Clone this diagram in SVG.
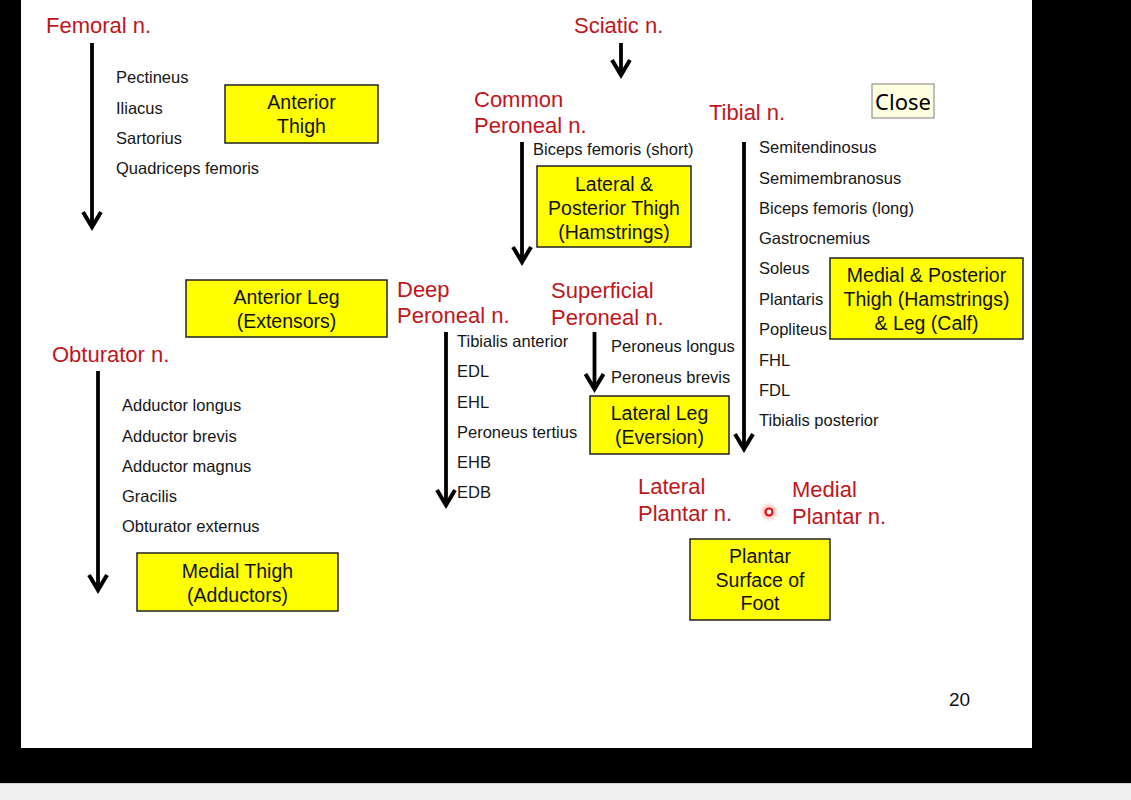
<svg xmlns="http://www.w3.org/2000/svg" width="1131" height="800" viewBox="0 0 1131 800">
<style>
.title{font-family:"Liberation Sans",Arial,sans-serif;font-size:22px;fill:#c0161b}
.mus{font-family:"Liberation Sans",Arial,sans-serif;font-size:16.5px;fill:#161616}
.boxt{font-family:"Liberation Sans",Arial,sans-serif;font-size:19.5px;fill:#111;text-anchor:middle}
.box{fill:#ffff00;stroke:#222;stroke-width:1.5}
.arr{stroke:#000;stroke-width:3.8;fill:none;marker-end:url(#chev)}
</style>
<defs>
<marker id="chev" markerUnits="userSpaceOnUse" viewBox="-20 -12 24 24" refX="0" refY="0" markerWidth="24" markerHeight="24" orient="auto" overflow="visible">
<path d="M-15,-9 L0,0 L-15,9" fill="none" stroke="#000" stroke-width="4"/>
</marker>
<radialGradient id="glow"><stop offset="0" stop-color="#ff3030" stop-opacity="0.5"/><stop offset="1" stop-color="#ff3030" stop-opacity="0"/></radialGradient>
</defs>
<rect x="0" y="0" width="1131" height="800" fill="#000"/>
<rect x="21" y="0" width="1011" height="748" fill="#fff"/>
<rect x="0" y="783" width="1131" height="17" fill="#f0f0f0"/>
<line x1="0" y1="783.5" x2="1131" y2="783.5" stroke="#d0d0d0"/>

<g id="connectors">
<line class="arr" x1="92" y1="43" x2="92" y2="227"/>
<line class="arr" x1="621" y1="43" x2="621" y2="75"/>
<line class="arr" x1="522" y1="142" x2="522" y2="262"/>
<line class="arr" x1="744" y1="142" x2="744" y2="449"/>
<line class="arr" x1="446" y1="332" x2="446" y2="505"/>
<line class="arr" x1="594.5" y1="332" x2="594.5" y2="389"/>
<line class="arr" x1="98" y1="371" x2="98" y2="590"/>
</g>

<g id="femoral">
<text class="title" x="46" y="33">Femoral n.</text>
<text class="mus" x="116" y="83">Pectineus</text>
<text class="mus" x="116" y="114">Iliacus</text>
<text class="mus" x="116" y="144">Sartorius</text>
<text class="mus" x="116" y="174">Quadriceps femoris</text>
</g>
<g id="anterior-thigh">
<rect class="box" x="225" y="85" width="153" height="58"/>
<text class="boxt" x="301.5" y="109">Anterior</text>
<text class="boxt" x="301.5" y="133">Thigh</text>
</g>

<g id="sciatic"><text class="title" x="574" y="33">Sciatic n.</text></g>

<g id="common-peroneal">
<text class="title" x="474" y="107">Common</text>
<text class="title" x="474" y="133">Peroneal n.</text>
<text class="mus" x="533" y="155">Biceps femoris (short)</text>
</g>
<g id="lateral-posterior-thigh">
<rect class="box" x="537" y="166" width="154" height="81"/>
<text class="boxt" x="614" y="191">Lateral &amp;</text>
<text class="boxt" x="614" y="215">Posterior Thigh</text>
<text class="boxt" x="614" y="239">(Hamstrings)</text>
</g>

<g id="tibial">
<text class="title" x="709" y="120">Tibial n.</text>
<text class="mus" x="759" y="153">Semitendinosus</text>
<text class="mus" x="759" y="184">Semimembranosus</text>
<text class="mus" x="759" y="214">Biceps femoris (long)</text>
<text class="mus" x="759" y="244">Gastrocnemius</text>
<text class="mus" x="759" y="274">Soleus</text>
<text class="mus" x="759" y="305">Plantaris</text>
<text class="mus" x="759" y="335">Popliteus</text>
<text class="mus" x="759" y="366">FHL</text>
<text class="mus" x="759" y="396">FDL</text>
<text class="mus" x="759" y="426">Tibialis posterior</text>
</g>
<g id="medial-posterior">
<rect class="box" x="830" y="258" width="193" height="81"/>
<text class="boxt" x="926.5" y="282">Medial &amp; Posterior</text>
<text class="boxt" x="926.5" y="306">Thigh (Hamstrings)</text>
<text class="boxt" x="926.5" y="330">&amp; Leg (Calf)</text>
</g>

<g id="close">
<rect x="872" y="84" width="62" height="34" fill="#ffffe1" stroke="#808080" stroke-width="1"/>
<text x="903" y="110" text-anchor="middle" font-family="'Noto Sans','Open Sans',sans-serif" font-size="22" fill="#000">Close</text>
</g>

<g id="anterior-leg">
<rect class="box" x="186" y="280" width="201" height="57"/>
<text class="boxt" x="286.5" y="304">Anterior Leg</text>
<text class="boxt" x="286.5" y="328">(Extensors)</text>
</g>

<g id="deep-peroneal">
<text class="title" x="397" y="297">Deep</text>
<text class="title" x="397" y="323">Peroneal n.</text>
<text class="mus" x="457" y="347">Tibialis anterior</text>
<text class="mus" x="457" y="377">EDL</text>
<text class="mus" x="457" y="408">EHL</text>
<text class="mus" x="457" y="438">Peroneus tertius</text>
<text class="mus" x="457" y="468">EHB</text>
<text class="mus" x="457" y="498">EDB</text>
</g>

<g id="superficial-peroneal">
<text class="title" x="551" y="298">Superficial</text>
<text class="title" x="551" y="325">Peroneal n.</text>
<text class="mus" x="611" y="352">Peroneus longus</text>
<text class="mus" x="611" y="383">Peroneus brevis</text>
</g>
<g id="lateral-leg">
<rect class="box" x="590" y="396" width="139" height="58"/>
<text class="boxt" x="659.5" y="420">Lateral Leg</text>
<text class="boxt" x="659.5" y="444">(Eversion)</text>
</g>

<g id="obturator">
<text class="title" x="52" y="362">Obturator n.</text>
<text class="mus" x="122" y="411">Adductor longus</text>
<text class="mus" x="122" y="442">Adductor brevis</text>
<text class="mus" x="122" y="472">Adductor magnus</text>
<text class="mus" x="122" y="502">Gracilis</text>
<text class="mus" x="122" y="532">Obturator externus</text>
</g>
<g id="medial-thigh">
<rect class="box" x="137" y="553" width="201" height="58"/>
<text class="boxt" x="237.5" y="578">Medial Thigh</text>
<text class="boxt" x="237.5" y="602">(Adductors)</text>
</g>

<g id="lateral-plantar">
<text class="title" x="638" y="494">Lateral</text>
<text class="title" x="638" y="521">Plantar n.</text>
</g>
<g id="medial-plantar">
<text class="title" x="792" y="497">Medial</text>
<text class="title" x="792" y="524">Plantar n.</text>
</g>
<g id="plantar-surface">
<rect class="box" x="690" y="539" width="140" height="81"/>
<text class="boxt" x="760" y="563">Plantar</text>
<text class="boxt" x="760" y="587">Surface of</text>
<text class="boxt" x="760" y="610">Foot</text>
</g>

<g id="pointer">
<circle cx="769" cy="512" r="10" fill="url(#glow)"/>
<circle cx="769" cy="512" r="3.5" fill="#fff" stroke="#e01010" stroke-width="2.2"/>
</g>

<text x="949" y="706" font-family="'Liberation Sans',Arial,sans-serif" font-size="19" fill="#111">20</text>
</svg>
